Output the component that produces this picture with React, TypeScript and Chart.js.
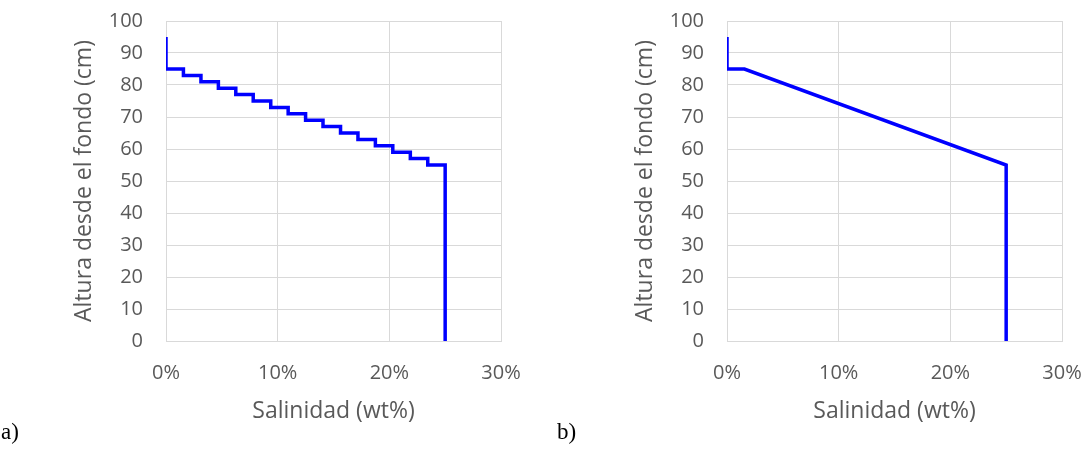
import React, { useEffect, useRef } from "react";
import { Chart, registerables } from "chart.js";

Chart.register(...registerables);

// Panel a): stepped salinity profile (salinity in %, height in cm)
const stepSalinity = [0, 0, 1.56, 3.13, 4.69, 6.25, 7.81, 9.38, 10.94, 12.5, 14.06, 15.63, 17.19, 18.75, 20.31, 21.88, 23.44, 25];
const stepHeight = [95, 85, 83, 81, 79, 77, 75, 73, 71, 69, 67, 65, 63, 61, 59, 57, 55, 0];

// Panel b): linear salinity profile
const linearSalinity = [0, 0, 1.56, 25, 25];
const linearHeight = [95, 85, 85, 55, 0];

const xTicks = [0, 10, 20, 30];
const yTicks = [0, 10, 20, 30, 40, 50, 60, 70, 80, 90, 100];
const xTitle = "Salinidad (wt%)";
const yTitle = "Altura desde el fondo (cm)";
const panelLabels = ["a)", "b)"];

const FONT = "'Open Sans', 'Noto Sans', sans-serif";
const TEXT = "#595959";
const GRID = "#d9d9d9";

type PanelProps = {
  xs: number[];
  ys: number[];
  stepped: boolean;
  left: number;
  width: number;
  yWidth: number;
  rightPad: number;
};

function Panel({ xs, ys, stepped, left, width, yWidth, rightPad }: PanelProps) {
  const ref = useRef<HTMLCanvasElement | null>(null);
  useEffect(() => {
    if (!ref.current) return;
    const chart = new Chart(ref.current, {
      type: "line",
      data: {
        datasets: [
          {
            data: xs.map((x, i) => ({ x, y: ys[i] })),
            borderColor: "#0000FF",
            backgroundColor: "#0000FF",
            borderWidth: 3.5,
            pointRadius: 0,
            pointHoverRadius: 0,
            stepped: stepped ? "before" : false,
            tension: 0,
            fill: false,
            borderJoinStyle: "miter",
            borderCapStyle: "butt",
            clip: 0,
          } as any,
        ],
      },
      options: {
        responsive: false,
        maintainAspectRatio: false,
        animation: false,
        devicePixelRatio: 1,
        layout: { padding: { left: 0, top: 21, right: rightPad, bottom: 0 } },
        plugins: { legend: { display: false }, tooltip: { enabled: false } },
        scales: {
          x: {
            type: "linear",
            min: 0,
            max: 30,
            afterBuildTicks: (s: any) => {
              s.ticks = xTicks.map((v) => ({ value: v }));
            },
            afterFit: (s: any) => {
              s.height = 123;
              s.paddingLeft = 0;
              s.paddingRight = 0;
            },
            ticks: {
              callback: (v: any) => `${v}%`,
              color: TEXT,
              font: { family: FONT, size: 20, lineHeight: 1 },
              padding: 22,
              maxRotation: 0,
              autoSkip: false,
            },
            grid: { color: GRID, lineWidth: 1, drawTicks: false },
            border: { color: GRID, width: 1 },
            title: {
              display: true,
              text: xTitle,
              color: TEXT,
              font: { family: FONT, size: 23, lineHeight: 1 },
              padding: { top: 0, bottom: 41 },
            },
          },
          y: {
            type: "linear",
            min: 0,
            max: 100,
            afterBuildTicks: (s: any) => {
              s.ticks = yTicks.map((v) => ({ value: v }));
            },
            afterFit: (s: any) => {
              s.width = yWidth;
              s.paddingTop = 0;
              s.paddingBottom = 0;
            },
            ticks: {
              color: TEXT,
              font: { family: FONT, size: 20, lineHeight: 1 },
              padding: 23,
              autoSkip: false,
            },
            grid: { color: GRID, lineWidth: 1, drawTicks: false },
            border: { color: GRID, width: 1 },
            title: {
              display: true,
              text: yTitle,
              color: TEXT,
              font: { family: FONT, size: 23, lineHeight: 1 },
              padding: { top: 73, bottom: 0 },
            },
          },
        },
      } as any,
    });
    return () => chart.destroy();
  }, [xs, ys, stepped, width, yWidth, rightPad]);

  return (
    <canvas
      ref={ref}
      width={width}
      height={464}
      style={{ position: "absolute", left, top: 0, width, height: 464, display: "block" }}
    />
  );
}

const labelStyle: React.CSSProperties = {
  position: "absolute",
  top: 420,
  fontFamily: "'Liberation Serif', 'Times New Roman', serif",
  fontSize: 23,
  lineHeight: "23px",
  color: "#000",
};

export default function App() {
  return (
    <div
      style={{
        position: "absolute",
        left: 0,
        top: 0,
        width: 1083,
        height: 464,
        background: "#fff",
        overflow: "hidden",
      }}
    >
      <Panel xs={stepSalinity} ys={stepHeight} stepped={true} left={0} width={540} yWidth={166} rightPad={39} />
      <Panel xs={linearSalinity} ys={linearHeight} stepped={false} left={561} width={522} yWidth={166} rightPad={21} />
      <div style={{ ...labelStyle, left: 1 }}>{panelLabels[0]}</div>
      <div style={{ ...labelStyle, left: 557 }}>{panelLabels[1]}</div>
    </div>
  );
}
